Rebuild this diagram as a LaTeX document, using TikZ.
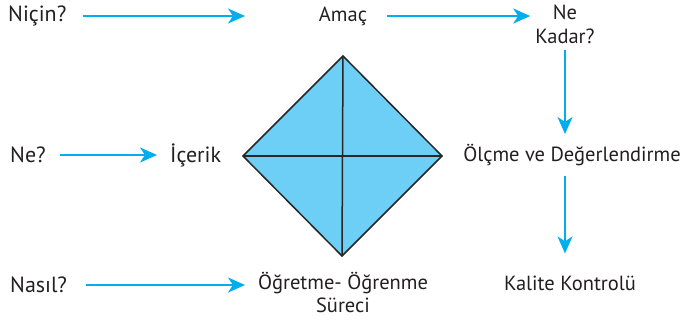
\documentclass[tikz,border=0pt]{standalone}
\usepackage{fontspec}
\setmainfont{PT Sans}
\usetikzlibrary{arrows.meta, calc}
\definecolor{okmavi}{HTML}{00AEEF}
\definecolor{elmas}{HTML}{6DCFF6}
\definecolor{yazi}{HTML}{231F20}

\begin{document}
\begin{tikzpicture}[x=1pt, y=-1pt,
  flow/.style={-{Stealth[length=17pt, width=15pt, inset=5pt]}, line width=2pt, okmavi},
  soru/.style={inner sep=0pt, text=yazi, font=\fontsize{22}{26}\selectfont},
  etiket/.style={inner sep=0pt, text=yazi, align=center, font=\fontsize{20.5}{23.5}\selectfont}]
  \useasboundingbox (0,0) rectangle (683,322);

  % Elmas
  \coordinate (L) at (243,156);
  \coordinate (T) at (343,56);
  \coordinate (R) at (442,156);
  \coordinate (B) at (342,256);
  \filldraw[fill=elmas, draw=black!85, line width=1.5pt, line join=miter]
    (L) -- (T) -- (R) -- (B) -- cycle;
  \draw[black!85, line width=1.5pt] (L) -- (R);
  \draw[black!85, line width=1.5pt] (T) -- (B);

  % Sorular ve kavramlar
  \node[soru, anchor=west] (nicin) at (8,16) {Niçin?};
  \node[etiket] (amac) at (343,16) {Amaç};
  \node[etiket, anchor=north] (nekadar) at (565,5) {Ne\\Kadar?};
  \node[soru, anchor=west] (ne) at (10,155) {Ne?};
  \node[soru, anchor=west] (icerik) at (170,155) {İçerik};
  \node[etiket] (olcme) at (572,155) {Ölçme ve Değerlendirme};
  \node[soru, anchor=west] (nasil) at (10,285) {Nasıl?};
  \node[etiket, anchor=north] (surec) at (343,272) {Öğretme- Öğrenme\\Süreci};
  \node[etiket] (kalite) at (570,283) {Kalite Kontrolü};

  % Oklar
  \draw[flow] ([xshift=16pt]nicin.east) -- ([xshift=2pt]nicin -| L);
  \draw[flow] ([xshift=20pt]amac.east) -- ([xshift=-5pt]amac -| nekadar.west);
  \draw[flow] ([xshift=14pt]ne.east) -- ([xshift=-13pt]icerik.west);
  \draw[flow] ([xshift=19pt]nasil.east) -- ([xshift=2pt]nasil -| L);
  \draw[flow] ([yshift=-6pt]nekadar.south) -- ([yshift=10pt]nekadar.south |- olcme.north);
  \draw[flow] ([yshift=-10pt]nekadar.south |- olcme.south) -- ([yshift=22pt]nekadar.south |- kalite.north);
\end{tikzpicture}
\end{document}
